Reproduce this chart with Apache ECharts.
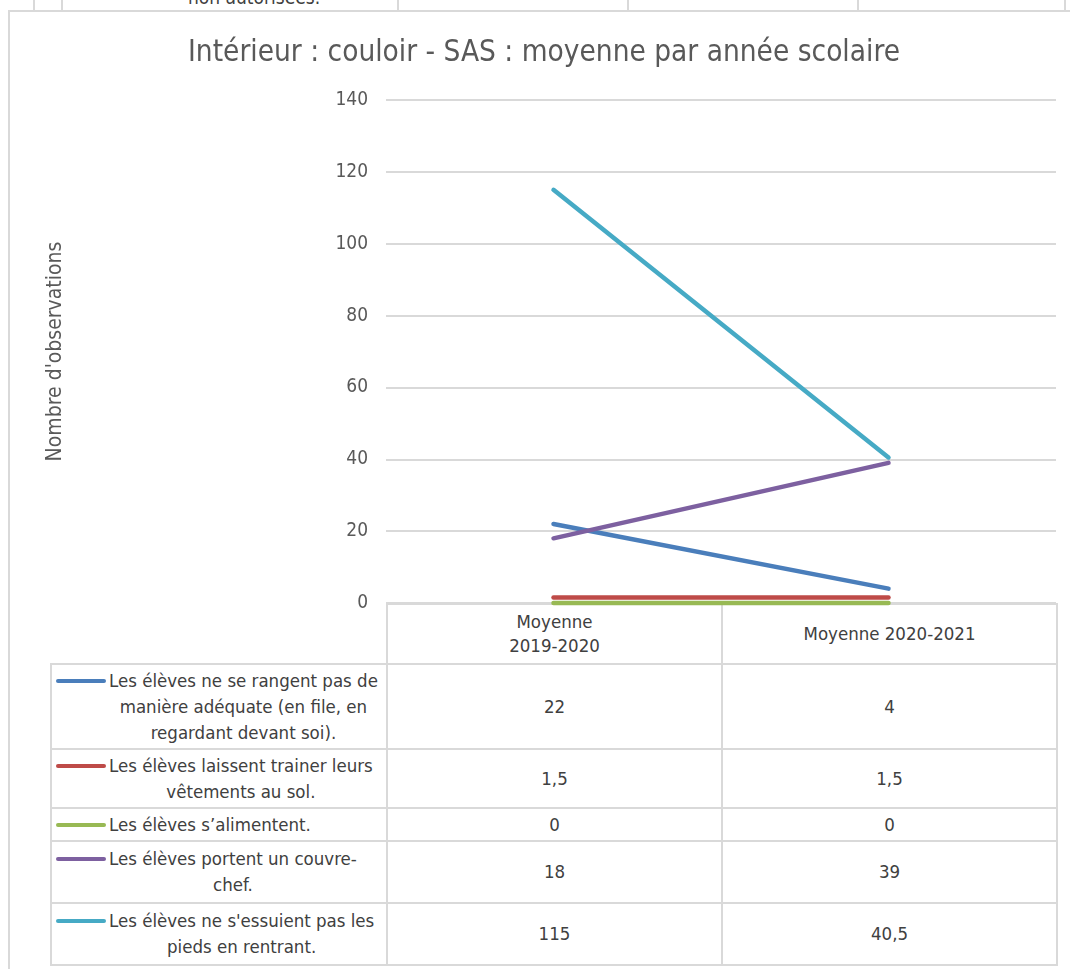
<!DOCTYPE html>
<html>
<head>
<meta charset="utf-8">
<script src="https://cdn.jsdelivr.net/npm/echarts@6/dist/echarts.min.js"></script>
<style>
  html, body { margin: 0; padding: 0; background: #fff; }
  body { width: 1070px; height: 969px; position: relative; overflow: hidden;
         font-family: "Liberation Sans Narrow", "DejaVu Sans Condensed", "Noto Sans", sans-serif; }
  .prev-row { position: absolute; left: 0; top: 0; width: 1070px; height: 11px; }
  .prev-row .vl { position: absolute; top: 0; width: 2px; height: 11px; background: #d9d9d9; }
  .prev-row .txt { position: absolute; left: 188px; top: -14px; font-size: 19px; color: #404040; }
  .frame { position: absolute; left: 8px; top: 10px; width: 1100px; height: 1000px;
           border: 2px solid #d9d9d9; box-sizing: border-box; }
  #chart { position: absolute; left: 0; top: 0; width: 1070px; height: 969px; z-index: 2; }
  table.dt { position: absolute; left: 50px; top: 603px; border-collapse: collapse;
             table-layout: fixed; z-index: 1; color: #404040; font-size: 18.5px; }
  table.dt td { border: 2px solid #d9d9d9; padding: 2.5px 0; text-align: center; vertical-align: middle; line-height: 26px; }
  table.dt td.blank { border-top: none; border-left: none; }
  table.dt tr.head td { height: 53px; line-height: 24px; }
  table.dt tr:nth-child(5) td, table.dt tr:nth-child(6) td { padding: 4px 0; }
  .lab { display: flex; align-items: flex-start; padding-left: 4px; }
  .sw { flex: 0 0 50px; height: 4px; border-radius: 2px; margin-top: 11px; }
  .lt { white-space: pre; text-align: center; margin-left: 3px; }
</style>
</head>
<body>
<div class="prev-row">
  <div class="vl" style="left:33px"></div>
  <div class="vl" style="left:61px"></div>
  <div class="vl" style="left:397px"></div>
  <div class="vl" style="left:627px"></div>
  <div class="vl" style="left:857px"></div>
  <div class="vl" style="left:1064px"></div>
  <div class="txt">non autorisées.</div>
</div>
<div class="frame"></div>
<table class="dt" id="dt"></table>
<div id="chart"></div>
<script>
const FONT = '"Liberation Sans Narrow", "DejaVu Sans Condensed", "Noto Sans", sans-serif'
const TEXT = '#595959'
const GRID = '#d9d9d9'

const title = 'Intérieur : couloir - SAS : moyenne par année scolaire'
const yName = "Nombre d'observations"
const categories = ['Moyenne\n2019-2020', 'Moyenne 2020-2021']
const seriesNames = [
  'Les élèves ne se rangent pas de\nmanière adéquate (en file, en\nregardant devant soi).',
  'Les élèves laissent trainer leurs\nvêtements au sol.',
  'Les élèves s’alimentent.',
  'Les élèves portent un couvre-\nchef.',
  "Les élèves ne s'essuient pas les\npieds en rentrant."
]
const rangent = [22, 4]
const vetements = [1.5, 1.5]
const alimentent = [0, 0]
const couvreChef = [18, 39]
const essuient = [115, 40.5]
const seriesValues = [rangent, vetements, alimentent, couvreChef, essuient]
const colors = ['#4a7ebb', '#be4b48', '#98b954', '#7d60a0', '#46aac5']

const yMin = 0
const yMax = 140
const yStep = 20

function fmt(v) {
  return String(v).replace('.', ',')
}

// data table under the plot (Excel style)
function buildTable() {
  const tbl = document.getElementById('dt')
  let html = '<colgroup><col style="width:336px"><col style="width:335px"><col style="width:335px"></colgroup>'
  html += '<tr class="head"><td class="blank"></td>'
  categories.forEach((c) => {
    html += `<td><div class="lt" style="margin:0">${c}</div></td>`
  })
  html += '</tr>'
  seriesNames.forEach((name, i) => {
    html += '<tr><td><div class="lab">'
    html += `<span class="sw" style="background:${colors[i]}"></span>`
    html += `<div class="lt">${name}</div></div></td>`
    seriesValues[i].forEach((v) => {
      html += `<td>${fmt(v)}</td>`
    })
    html += '</tr>'
  })
  tbl.innerHTML = html
}

buildTable()

const chart = echarts.init(document.getElementById('chart'), null, { renderer: 'canvas' })

chart.setOption({
  backgroundColor: 'transparent',
  animation: false,
  title: {
    text: title,
    left: 539,
    top: 33,
    textAlign: 'center',
    textStyle: { color: TEXT, fontFamily: FONT, fontSize: 29.5, fontWeight: 'normal' }
  },
  grid: { left: 386, right: 14, top: 100, bottom: 366 },
  xAxis: {
    type: 'category',
    data: categories,
    boundaryGap: true,
    axisLine: { show: false },
    axisTick: { show: false },
    axisLabel: { show: false }
  },
  yAxis: {
    type: 'value',
    min: yMin,
    max: yMax,
    interval: yStep,
    name: yName,
    nameLocation: 'middle',
    nameGap: 320,
    nameRotate: 90,
    nameTextStyle: { color: TEXT, fontFamily: FONT, fontSize: 21 },
    axisLine: { show: false },
    axisTick: { show: false },
    axisLabel: { color: TEXT, fontFamily: FONT, fontSize: 19, margin: 18 },
    splitLine: { lineStyle: { color: GRID, width: 2 } }
  },
  series: seriesNames.map((name, i) => ({
    name,
    type: 'line',
    data: seriesValues[i],
    symbol: 'none',
    clip: false,
    lineStyle: { color: colors[i], width: 4.5, cap: 'round' },
    z: 2 + i
  }))
})
</script>
</body>
</html>
